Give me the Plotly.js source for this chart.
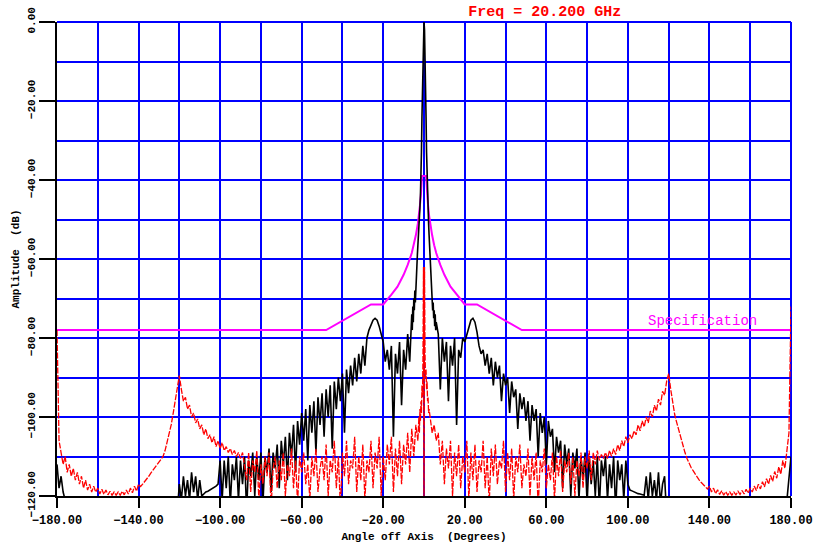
<!DOCTYPE html>
<html><head><meta charset="utf-8">
<script src="https://cdn.plot.ly/plotly-3.0.1.min.js"></script>
<style>html,body{margin:0;padding:0;background:#fff}#chart{width:818px;height:543px}</style>
</head><body><div id="chart"></div>
<script>
// ---- Co-polar pattern (black), sampled on a uniform angle grid ----
const coLeftStart = -180, coLeftStep = 1;
const coLeft = [
 -112,-118,-115,-119,-121,-125,-130,-130,-130,-130,
 -130,-130,-130,-130,-130,-130,-130,-130,-130,-130,
 -130,-130,-130,-130,-130,-130,-130,-130,-130,-130,
 -130,-130,-130,-130,-130,-130,-130,-130,-130,-130,
 -130,-130,-130,-130,-130,-130,-130,-130,-130,-130,
 -130,-130,-130,-130,-130,-130,-130,-130,-130,-124,
 -117,-121,-115,-120,-116,-121,-114,-119,-115,-121,
 -116,-120,-119.5,-119,-118.8,-118.5,-118.3,-118,-117.5,-117,
 -111,-121,-111,-118,-110,-122,-112,-116,-110,-121,
 -111,-117,-110,-124,-111,-115,-109,-120,-110,-116,
 -109,-122,-110,-114,-108,-119,-109,-113,-107,-118,
 -106,-112,-105,-116,-104,-110,-102,-114,-101,-107,
 -99,-106,-98,-111,-97,-104,-96,-109,-95,-102,
 -94,-105,-93,-100,-92,-108,-91,-98,-90,-96,
 -89,-104,-88,-94,-87,-92,-85,-91,-84,-89,
 -82,-87,-80,-78,-76.5,-75.5,-75,-75.5,-77,-79,
 -81,-86,-83,-88,-82,-105,-84,-89,-81,-97,
 -83,-88,-79,-86
];
const coMainStart = -6, coMainStep = 0.25;
const coMain = [
 -74,-78,-72,-76,-70,-73,-68,-71,-66,-64,-62,-59,-57,-55,-52,-50,-47,-44,-40,-33,-24,-15,-7,-2,
 0,
 -2,-7,-15,-24,-33,-40,-44,-47,-51,-54,-57,-60,-63,-66,-68,-70,-73,-71,-75,-73,-77,-74,-78,-76
];
const coRightStart = 7, coRightStep = 1;
const coRight = [
 -79,-93,-80,-86,-81,-96,-82,-87,-80,-102,
 -83,-85,-80,-81,-79,-77,-75.5,-75,-76,-78.5,
 -82,-84,-83,-87,-84,-89,-85,-92,-86,-90,
 -87,-96,-89,-92,-90,-99,-91,-95,-93,-103,
 -94,-98,-95,-101,-96,-106,-97,-101,-98,-110,
 -99,-104,-100,-112,-101,-105,-103,-114,-105,-109,
 -106,-118,-107,-112,-108,-120,-109,-113,-108,-121,
 -110,-116,-109,-122,-110,-117,-111,-120,-110,-123,
 -111,-115,-110,-121,-112,-118,-110,-124,-111,-116,
 -112,-121,-111,-117,-118.5,-118.7,-119,-119.2,-119.4,-119.5,
 -119.6,-119.8,-115,-121,-114,-120,-116,-121,-114,-122,
 -117,-115,-125,-130,-130,-130,-130,-130,-130,-130,
 -130,-130,-130,-130,-130,-130,-130,-130,-130,-130,
 -130,-130,-130,-130,-130,-130,-130,-130,-130,-130,
 -130,-130,-130,-130,-130,-130,-130,-130,-130,-130,
 -130,-130,-130,-130,-130,-130,-130,-130,-130,-130,
 -130,-130,-130,-130,-130,-130,-130,-130,-130,-130,
 -130,-121,-116,-110
];

// ---- Cross-polar pattern (red) ----
const xpLeftStart = -180, xpLeftStep = 1;
const xpLeft = [
 -78,-106,-109,-112,-110,-114,-112,-115,-113,-116,
 -114,-117,-115,-118,-116,-118.5,-117,-119,-117.5,-119,
 -118,-119.5,-118.3,-119.6,-118.5,-119.7,-118.8,-119.8,-119,-119.8,
 -119,-119.8,-118.8,-119.7,-118.5,-119.5,-118,-119.2,-117.5,-118.8,
 -117,-117.6,-117,-116.4,-115.8,-115,-114.2,-113.5,-112.8,-112,
 -111.3,-110.6,-110,-108.5,-106.5,-104.5,-102,-99,-96,-93,
 -89.5,-93,-96,-95,-98,-97,-100,-99,-101.5,-100.5,
 -103,-102,-104.5,-103,-105.5,-104.5,-106.5,-105,-107.5,-106,
 -108,-106.5,-108.5,-107.5,-109,-108,-109.5,-108.5,-110,-109,
 -110.5,-109,-112,-116,-109,-119,-111,-114,-108.5,-121,
 -112,-117,-110,-115,-109,-123,-113,-110,-118,-111,
 -116,-109,-120,-112,-115,-108,-118,-111,-122,-110,
 -114,-109,-117,-112,-121,-110,-115,-108,-119,-113,
 -110,-116,-107,-120,-111,-114,-106,-118,-110,-123,
 -109,-115,-106,-117,-111,-113,-105,-119,-110,-116,
 -107,-121,-111,-114,-106,-118,-109,-113,-105,-120,
 -110,-116,-107,-112,-105,-119,-108,-115,-106,-117,
 -107,-112,-104,-114,-103,-110,-102,-106
];
const xpMainStart = -2.5, xpMainStep = 0.25;
const xpMain = [-100,-104,-98,-101,-96,-99,-92,-95,-85,-62,-130,-62,-84,-90,-88,-93,-91,-96,-95,-99,-98];
const xpRightStart = 3, xpRightStep = 1;
const xpRight = [
 -100,-104,-102,-106,-104,-112,-106,-117,-108,-113,
 -106,-120,-109,-115,-107,-118,-110,-114,-106,-121,
 -109,-116,-107,-119,-111,-114,-106,-118,-110,-122,
 -108,-115,-107,-117,-111,-113,-106,-119,-109,-116,
 -108,-121,-110,-114,-107,-118,-112,-115,-108,-120,
 -110,-116,-109,-123,-111,-114,-108,-118,-112,-116,
 -109,-121,-110,-115,-108.5,-119,-111,-114,-109,-117,
 -110,-120,-111,-115,-109,-118,-110,-113,-108.5,-116,
 -109,-112,-108.5,-111,-109.5,-110.5,-109,-110.5,-108.5,-110,
 -108,-109.5,-107,-108.5,-106,-107.5,-105,-106.5,-104.5,-105.5,
 -103.5,-104.5,-102,-103.5,-101,-102.5,-100,-101.5,-98.5,-100,
 -97,-98.5,-95.5,-97,-93.5,-94.5,-91,-89,-93,-96.5,
 -99.5,-101.5,-103.5,-105.5,-107.3,-109,-110.5,-111.8,-112.8,-113.6,
 -114.5,-115.3,-116,-116.6,-117.2,-117.8,-118.2,-117.5,-119,-118,
 -119.4,-118.4,-119.6,-118.7,-119.8,-118.9,-119.8,-119,-119.8,-119,
 -119.7,-118.8,-119.6,-118.6,-119.5,-118.3,-119.3,-118,-119,-117.5,
 -118.6,-117,-118.2,-116.4,-117.7,-115.6,-117,-114.8,-116.3,-113.8,
 -115.5,-112.6,-114.5,-111,-113,-108.5,-104,-72
];

// ---- Specification mask ----
const specAngle = [-180,-48,-26,-20,-16,-13,-10,-8,-6,-5,-4,-3,-2.5,-2,-1.5,-1,1,1.5,2,2.5,3,4,5,6,8,10,13,16,20,26,48,180];
const specLevel = [-78,-78,-71.5,-71.5,-69,-67,-64,-61.5,-58.5,-56.5,-54,-51,-49,-46.5,-43.5,-39,-39,-43.5,-46.5,-49,-51,-54,-56.5,-58.5,-61.5,-64,-67,-69,-71.5,-71.5,-78,-78];

const titleText = 'Freq = 20.200 GHz';
const xTitle = 'Angle off Axis\u00a0\u00a0(Degrees)';
const yTitle = 'Amplitude\u00a0\u00a0(dB)';
const specLabel = 'Specification';

function grid(start, step, n){ const a=[]; for(let i=0;i<n;i++) a.push(+(start+i*step).toFixed(3)); return a; }

const coX = [].concat(grid(coLeftStart,coLeftStep,coLeft.length), grid(coMainStart,coMainStep,coMain.length), grid(coRightStart,coRightStep,coRight.length));
const coY = [].concat(coLeft, coMain, coRight);
const xpX = [].concat(grid(xpLeftStart,xpLeftStep,xpLeft.length), grid(xpMainStart,xpMainStep,xpMain.length), grid(xpRightStart,xpRightStep,xpRight.length));
const xpY = [].concat(xpLeft, xpMain, xpRight);

const FONT = 'Liberation Mono, DejaVu Sans Mono, monospace';

const traces = [
  {x: specAngle, y: specLevel, type:'scatter', mode:'lines', name:'Specification',
   line:{color:'#ff00ff', width:2}, showlegend:false},
  {x: coX, y: coY, type:'scatter', mode:'lines', name:'Co-pol',
   line:{color:'#000000', width:1.6}, showlegend:false},
  {x: xpX, y: xpY, type:'scatter', mode:'lines', name:'Cross-pol',
   line:{color:'#ff0000', width:1.3, dash:'6px,1.5px'}, showlegend:false}
];

const layout = {
  width: 818, height: 543,
  margin: {l:57, r:27, t:22, b:47},
  paper_bgcolor:'#ffffff', plot_bgcolor:'#ffffff',
  showlegend:false,
  title: {text: titleText, font:{family:FONT, size:15, color:'#ff0000', weight:700},
          x: 0.666, xanchor:'center', y: 0.98, yanchor:'middle'},
  xaxis: {
    range:[-180,180], tick0:-180, dtick:40, tickformat:'.2f',
    ticks:'outside', ticklen:10, tickwidth:2, tickcolor:'#000',
    ticklabelstandoff:2,
    showline:true, linecolor:'#000', linewidth:2,
    showgrid:true, gridcolor:'#0000ff', gridwidth:2, zeroline:false,
    minor:{tick0:-180, dtick:20, showgrid:true, gridcolor:'#0000ff', gridwidth:2, ticks:''},
    tickfont:{family:FONT, size:12, color:'#000', weight:700},
    title:{text:xTitle, font:{family:FONT, size:11, color:'#000', weight:700}, standoff:5}
  },
  yaxis: {
    range:[-120,0], tick0:0, dtick:20, tickformat:'.2f', tickangle:-90,
    ticks:'outside', ticklen:16, tickwidth:2, tickcolor:'#000',
    showline:true, linecolor:'#000', linewidth:2,
    showgrid:true, gridcolor:'#0000ff', gridwidth:2, zeroline:false,
    minor:{tick0:0, dtick:10, showgrid:true, gridcolor:'#0000ff', gridwidth:2, ticks:''},
    tickfont:{family:FONT, size:11, color:'#000', weight:700},
    title:{text:yTitle, font:{family:FONT, size:11, color:'#000', weight:700}, standoff:4}
  },
  shapes: [
    {type:'line', xref:'paper', yref:'paper', x0:0, x1:1, y0:1, y1:1, line:{color:'#0000ff', width:2}, layer:'below'},
    {type:'line', xref:'paper', yref:'paper', x0:1, x1:1, y0:0, y1:1, line:{color:'#0000ff', width:2}, layer:'below'}
  ],
  annotations: [
    {x:136.4, y:-75.6, xref:'x', yref:'y', text:specLabel, showarrow:false,
     font:{family:FONT, size:14, color:'#ff00ff'}, xanchor:'center', yanchor:'middle'}
  ]
};

Plotly.newPlot('chart', traces, layout, {displayModeBar:false, staticPlot:true});
</script>
</body></html>
